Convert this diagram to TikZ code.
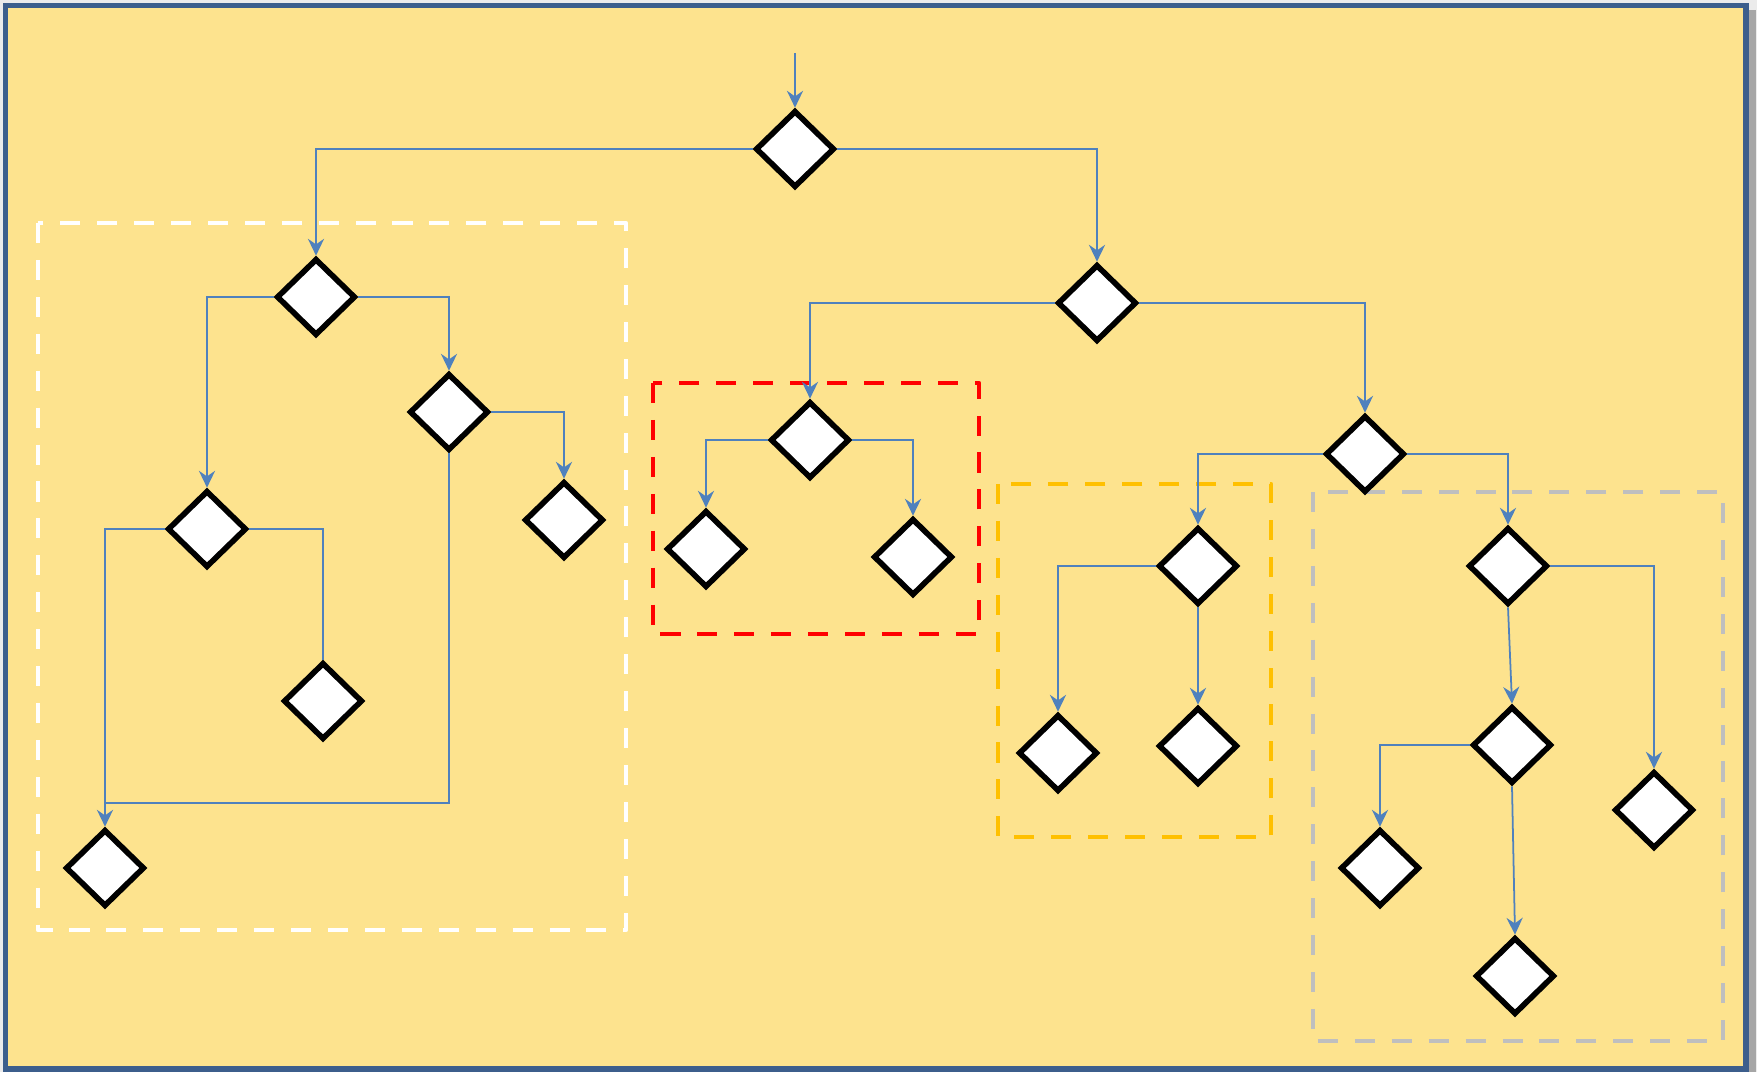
\documentclass[tikz,border=0pt]{standalone}
\usetikzlibrary{shapes.geometric,arrows.meta}
\definecolor{paper}{RGB}{253,227,142}
\definecolor{frameblue}{RGB}{60,94,140}
\definecolor{linkblue}{RGB}{79,129,189}
\definecolor{amber}{RGB}{255,192,0}
\definecolor{silver}{RGB}{191,191,191}
\begin{document}
\begin{tikzpicture}[x=0.01cm,y=-0.01cm,
    dec/.style={diamond,draw=black,fill=white,line width=1.6pt,inner sep=0pt,minimum width=0.79cm,minimum height=0.77cm},
    link/.style={draw=linkblue,line width=0.5pt,-{Stealth[length=4.8pt,width=4.6pt,inset=1.6pt]}},
    plain/.style={draw=linkblue,line width=0.5pt},
    group/.style={line width=1.35pt,line join=round,dash pattern=on 5.7pt off 4.8pt}]
            \useasboundingbox (0,0) rectangle (1757,1072);
            \fill[black!8] (0,0) rectangle (1757,1072);
            \fill[black!35] (1749,10) rectangle (1756,1072);
            \draw[frameblue,fill=paper,line width=1.5pt] (5.5,5.5) rectangle (1746,1069);
            \draw[group,white] (38,223) rectangle (626,930);
            \draw[group,red] (653,383) rectangle (979,634);
            \draw[group,amber] (998,484) rectangle (1271,837);
            \draw[group,silver] (1313,492) rectangle (1723,1041);
            \coordinate (start) at (795,53);
            \coordinate (join) at (105,803);
            \node[dec] (r) at (795,149) {};
            \node[dec] (a) at (316,297) {};
            \node[dec] (b) at (1097,303) {};
            \node[dec] (a1) at (207,529) {};
            \node[dec] (a2) at (449,412) {};
            \node[dec] (a21) at (564,520) {};
            \node[dec] (a11) at (323,701) {};
            \node[dec] (a0) at (105,868) {};
            \node[dec] (b1) at (810,440) {};
            \node[dec] (b11) at (706,549) {};
            \node[dec] (b12) at (913,557) {};
            \node[dec] (b2) at (1365,454) {};
            \node[dec] (b21) at (1198,566) {};
            \node[dec] (b22) at (1508,566) {};
            \node[dec] (b211) at (1058,753) {};
            \node[dec] (b212) at (1198,746) {};
            \node[dec] (b221) at (1512,745) {};
            \node[dec] (b222) at (1654,810) {};
            \node[dec] (b2211) at (1380,868) {};
            \node[dec] (b2212) at (1515,976) {};
            \draw[link] (start) -- (r);
            \draw[link] (r.west) -| (a.north);
            \draw[link] (r.east) -| (b.north);
            \draw[link] (a.west) -| (a1.north);
            \draw[link] (a.east) -| (a2.north);
            \draw[link] (a2.east) -| (a21.north);
            \draw[plain] (a1.east) -| (a11.north);
            \draw[link] (a1.west) -| (a0.north);
            \draw[plain] (a2.south) |- (join);
            \draw[link] (b.west) -| (b1.north);
            \draw[link] (b.east) -| (b2.north);
            \draw[link] (b1.west) -| (b11.north);
            \draw[link] (b1.east) -| (b12.north);
            \draw[link] (b2.west) -| (b21.north);
            \draw[link] (b2.east) -| (b22.north);
            \draw[link] (b21.west) -| (b211.north);
            \draw[link] (b21.south) -- (b212.north);
            \draw[link] (b22.south) -- (b221.north);
            \draw[link] (b22.east) -| (b222.north);
            \draw[link] (b221.west) -| (b2211.north);
            \draw[link] (b221.south) -- (b2212.north);
        \end{tikzpicture}
\end{document}
